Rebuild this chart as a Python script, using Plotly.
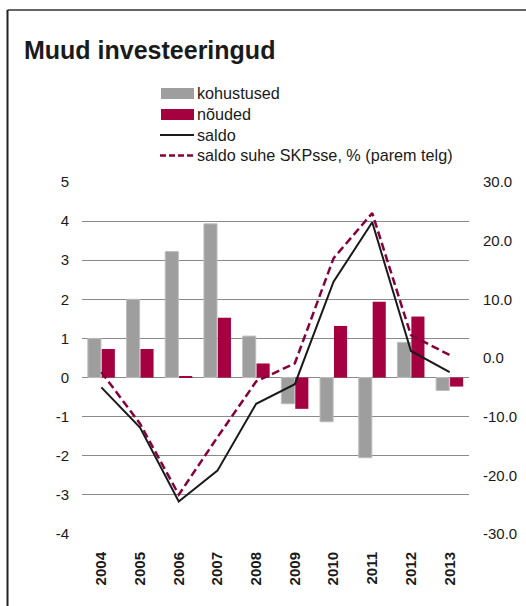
import plotly.graph_objects as go

years = ["2004", "2005", "2006", "2007", "2008", "2009", "2010", "2011", "2012", "2013"]
kohustused = [1.00, 2.00, 3.22, 3.93, 1.06, -0.67, -1.13, -2.05, 0.90, -0.33]
nouded = [0.73, 0.73, 0.02, 1.53, 0.36, -0.80, 1.32, 1.94, 1.56, -0.23]
saldo = [-0.25, -1.28, -3.17, -2.38, -0.67, -0.17, 2.45, 3.97, 0.68, 0.14]
saldo_pct = [-2.4, -11.2, -23.3, -13.5, -4.0, -0.9, 17.0, 24.7, 3.9, 0.5]

left_ticks = [5, 4, 3, 2, 1, 0, -1, -2, -3, -4]
left_labels = ["5", "4", "3", "2", "1", "0", "-1", "-2", "-3", "-4"]
right_ticks = [30, 20, 10, 0, -10, -20, -30]
right_labels = ["30.0", "20.0", "10.0", "0.0", "-10.0", "-20.0", "-30.0"]

names = ["kohustused", "nõuded", "saldo", "saldo suhe SKPsse, % (parem telg)"]
c_gray, c_red, c_black, c_dash = "#9E9E9E", "#A50040", "#1a1a1a", "#86003E"

W, H = 526, 606
ML, MR, MT, MB = 82, 57, 182, 72
PW, PH = W - ML - MR, H - MT - MB

def px(x):
    return (x - ML) / PW

def py(y):
    return (H - MB - y) / PH

fig = go.Figure()
fig.add_trace(go.Bar(x=years, y=kohustused, name=names[0], marker_color=c_gray,
                     marker_line=dict(width=1, color="#BDBDBD")))
fig.add_trace(go.Bar(x=years, y=nouded, name=names[1], marker_color=c_red,
                     marker_line_width=0))
fig.add_trace(go.Scatter(x=years, y=saldo, name=names[2], mode="lines",
                         line=dict(color=c_black, width=2)))
fig.add_trace(go.Scatter(x=years, y=saldo_pct, name=names[3],
                         mode="lines", yaxis="y2",
                         line=dict(color=c_dash, width=2.5, dash="8px,4px")))

font = "Liberation Sans, Arial, sans-serif"
txt = "#1a1a1a"

shapes = [
    dict(type="line", xref="paper", yref="paper", x0=px(7.5), x1=px(W), y0=py(10), y1=py(10),
         line=dict(color="#333333", width=1.5)),
    dict(type="line", xref="paper", yref="paper", x0=px(7.5), x1=px(7.5), y0=py(10), y1=py(H),
         line=dict(color="#222222", width=2)),
    # legend swatches
    dict(type="rect", xref="paper", yref="paper", x0=px(161), x1=px(194), y0=py(88), y1=py(99),
         fillcolor=c_gray, line=dict(width=0)),
    dict(type="rect", xref="paper", yref="paper", x0=px(161), x1=px(194), y0=py(109), y1=py(120),
         fillcolor=c_red, line=dict(width=0)),
    dict(type="line", xref="paper", yref="paper", x0=px(160), x1=px(194), y0=py(135), y1=py(135),
         line=dict(color=c_black, width=2)),
    dict(type="line", xref="paper", yref="paper", x0=px(160), x1=px(194), y0=py(155.5), y1=py(155.5),
         line=dict(color=c_dash, width=2.5, dash="6px,3px")),
]

annotations = [dict(text="<b>Muud investeeringud</b>", xref="paper", yref="paper",
                    x=px(22), y=py(50), xanchor="left", yanchor="middle",
                    showarrow=False, font=dict(size=25, family=font, color=txt))]
for name, yc in zip(names, [93, 114, 135, 155]):
    annotations.append(dict(text=name, xref="paper", yref="paper", x=px(195), y=py(yc),
                            xanchor="left", yanchor="middle", showarrow=False,
                            font=dict(size=16.2, family=font, color=txt)))

fig.update_layout(
    width=W, height=H,
    margin=dict(l=ML, r=MR, t=MT, b=MB, autoexpand=False),
    paper_bgcolor="white", plot_bgcolor="white",
    font=dict(family=font, size=15, color=txt),
    barmode="group", bargap=0.28, bargroupgap=0.06,
    showlegend=False,
    xaxis=dict(type="category", tickangle=-90, showgrid=False, showline=False,
               ticks="", tickfont=dict(size=15, family=font, weight="bold"),
               ticklabelstandoff=14),
    yaxis=dict(range=[-4, 5], tickvals=left_ticks, ticktext=left_labels,
               showgrid=True, gridcolor="#8a8a8a", gridwidth=1,
               zeroline=False, showline=False, ticks="", ticklabelstandoff=12),
    yaxis2=dict(range=[-30, 30], tickvals=right_ticks, ticktext=right_labels,
                overlaying="y", side="right", showgrid=False,
                zeroline=False, showline=False, ticks="", ticklabelstandoff=13),
    annotations=annotations,
    shapes=shapes,
)

fig.write_html("out.html", config={"displayModeBar": False},
               post_script="document.body.style.margin='0';")
